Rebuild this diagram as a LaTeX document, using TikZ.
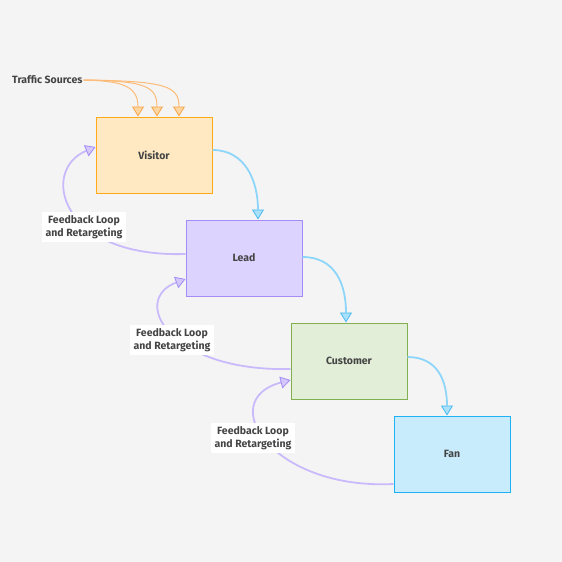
\documentclass[tikz,border=0pt]{standalone}
\usepackage{fontspec}
\setmainfont{Fira Sans}
\usetikzlibrary{arrows.meta}
\definecolor{bg}{HTML}{F4F4F4}
\definecolor{txt}{HTML}{444444}
\definecolor{visF}{HTML}{FFE9C2}
\definecolor{visD}{HTML}{FFA81A}
\definecolor{leadF}{HTML}{DCD4FE}
\definecolor{leadD}{HTML}{A68CF7}
\definecolor{custF}{HTML}{E2EED8}
\definecolor{custD}{HTML}{82B050}
\definecolor{fanF}{HTML}{C9ECFD}
\definecolor{fanD}{HTML}{1FB1F6}
\definecolor{blueL}{HTML}{8ED6F9}
\definecolor{blueAF}{HTML}{A9E1FB}
\definecolor{blueAD}{HTML}{4BBAF0}
\definecolor{purL}{HTML}{C9BAFB}
\definecolor{purAF}{HTML}{D4C7FC}
\definecolor{purAD}{HTML}{A38CF5}
\definecolor{orL}{HTML}{FDBB78}
\definecolor{orAF}{HTML}{FFD5A0}
\definecolor{orAD}{HTML}{F9A54A}
\tikzset{
  stagebox/.style={draw, line width=1pt, minimum width=116pt, minimum height=76pt, inner sep=0pt, text=txt, font=\fontsize{10.5}{12}\selectfont\bfseries},
  fblabel/.style={fill=white, text=txt, align=center, inner xsep=4pt, inner ysep=3pt, font=\fontsize{10.5}{13}\selectfont\bfseries},
  blueconn/.style={draw=blueL, line width=1.8pt, -{Triangle[width=12pt,length=10pt,fill=blueAF,color=blueAD,line width=0.8pt]}},
  purconn/.style={draw=purL, line width=1.8pt, -{Triangle[width=12pt,length=10pt,fill=purAF,color=purAD,line width=0.8pt]}},
  orconn/.style={draw=orL, line width=1pt, -{Triangle[width=12pt,length=10pt,fill=orAF,color=orAD,line width=0.8pt]}}
}
\begin{document}
\begin{tikzpicture}[x=1pt,y=-1pt]
\fill[bg] (0,0) rectangle (562,562);
\useasboundingbox (0,0) rectangle (562,562);

\node[stagebox, fill=visF, draw=visD] (visitor) at (154,155) {Visitor};
\node[stagebox, fill=leadF, draw=leadD] (lead) at (244,258) {Lead};
\node[stagebox, fill=custF, draw=custD] (customer) at (349,361) {Customer};
\node[stagebox, fill=fanF, draw=fanD] (fan) at (452,454) {Fan};

\node[anchor=west, text=txt, inner sep=0pt, font=\fontsize{10.5}{12}\selectfont\bfseries] (traffic) at (12,80) {Traffic Sources};

% traffic arrows
\draw[orconn] ([xshift=1pt]traffic.east) .. controls (120,81) and (138,85) .. ([xshift=-16pt]visitor.north);
\draw[orconn] ([xshift=1pt]traffic.east) .. controls (145,81) and (157,86) .. ([xshift=3pt]visitor.north);
\draw[orconn] ([xshift=1pt]traffic.east) .. controls (166,81) and (179,86) .. ([xshift=25pt]visitor.north);

% forward flow
\draw[blueconn] ([yshift=5pt]visitor.east) .. controls +(33,0) and +(0,-38) .. ([xshift=14pt]lead.north);
\draw[blueconn] ([yshift=1pt]lead.east) .. controls +(33,0) and +(0,-38) .. ([xshift=-3pt]customer.north);
\draw[blueconn] ([yshift=4pt]customer.east) .. controls +(30,0) and +(0,-35) .. ([xshift=-5pt]fan.north);

% feedback loops
\draw[purconn] ([yshift=4pt]lead.west) .. controls +(-126,4) and +(-56,23) .. ([yshift=8pt]visitor.west);
\draw[purconn] ([yshift=-8pt]customer.west) .. controls +(-121,3) and +(-56,21) .. ([yshift=-21pt]lead.west);
\draw[purconn] ([yshift=-30pt]fan.west) .. controls +(-122,6) and +(-76,20) .. ([yshift=-19pt]customer.west);

\node[fblabel] (fb1) at (84,227) {Feedback Loop\\and Retargeting};
\node[fblabel] (fb2) at (172,340) {Feedback Loop\\and Retargeting};
\node[fblabel] (fb3) at (253,438) {Feedback Loop\\and Retargeting};
\end{tikzpicture}
\end{document}
